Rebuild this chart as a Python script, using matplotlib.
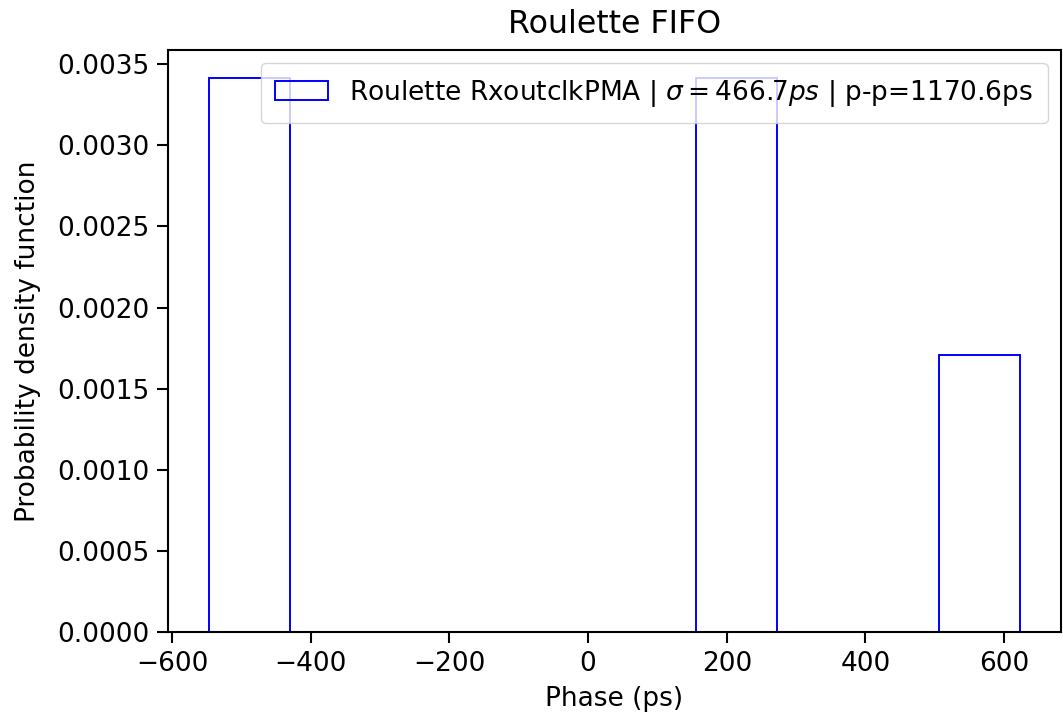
import matplotlib
matplotlib.use('Agg')
import matplotlib.pyplot as plt

# Phase samples (ps) read back from the histogram: 2 / 2 / 1 counts in bins 0, 6, 9
PHASE_PS = [-547.3, -547.3, 160.0, 270.0, 623.3]
SIGMA_PS = 466.7
PP_PS = 1170.6
N_BINS = 10

TITLE = 'Roulette FIFO'
X_LABEL = 'Phase (ps)'
Y_LABEL = 'Probability density function'


def main():
    plt.rcParams['font.size'] = 19
    plt.rcParams['axes.linewidth'] = 1.5
    plt.rcParams['xtick.major.width'] = 1.5
    plt.rcParams['ytick.major.width'] = 1.5
    plt.rcParams['xtick.major.size'] = 8
    plt.rcParams['ytick.major.size'] = 8
    plt.rcParams['xtick.major.pad'] = 6
    plt.rcParams['ytick.major.pad'] = 5
    fig = plt.figure(figsize=(10.63, 7.14), dpi=100)
    ax = fig.add_axes([0.158, 0.115, 0.840, 0.815])

    label = r'Roulette RxoutclkPMA | $\sigma=%.1fps$ | p-p=%.1fps' % (SIGMA_PS, PP_PS)
    ax.hist(PHASE_PS, bins=N_BINS, density=True, histtype='step',
            color='blue', linewidth=1.4, label=label)

    ax.set_title(TITLE, pad=12)
    ax.set_xlabel(X_LABEL, labelpad=6)
    ax.set_ylabel(Y_LABEL, labelpad=12)
    ax.legend(loc='upper right', borderpad=0.55)

    fig.savefig('out.png', dpi=100)


if __name__ == '__main__':
    main()
